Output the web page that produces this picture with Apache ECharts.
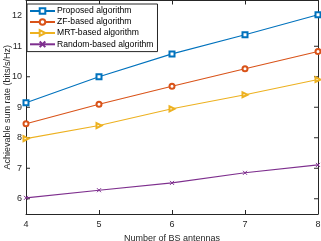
<!DOCTYPE html>
<html><head><meta charset="utf-8">
<script src="https://cdn.jsdelivr.net/npm/echarts@6/dist/echarts.min.js"></script>
<style>html,body{margin:0;padding:0;background:#fff}#c{width:321px;height:241px}</style>
</head><body><div id="c"></div>
<script>
const antennas = [4, 5, 6, 7, 8];
const proposed = [9.15, 10.0, 10.75, 11.38, 12.03];
const zfBased = [8.46, 9.1, 9.69, 10.26, 10.83];
const mrtBased = [7.97, 8.40, 8.95, 9.41, 9.91];
const randomBased = [6.03, 6.28, 6.52, 6.85, 7.11];
const yTicks = [6, 7, 8, 9, 10, 11, 12];
const names = ['Proposed algorithm', 'ZF-based algorithm', 'MRT-based algorithm', 'Random-based algorithm'];

const axisColor = '#262626';
const font = 'Liberation Sans, Arial, sans-serif';
const xPath = 'path://M0,0L10,10M10,0L0,10';
function mk(name, data, color, symbol, rot) {
  const isX = symbol === xPath;
  return {
    name, type: 'line', data: antennas.map((a, i) => [a, data[i]]),
    symbol, symbolSize: isX ? 4 : 5, symbolRotate: rot || 0,
    showAllSymbol: true, color,
    lineStyle: { color, width: 1.1 },
    itemStyle: { color: isX ? 'none' : color, borderColor: color, borderWidth: 1 },
    emphasis: { disabled: true },
    animation: false, z: 3
  };
}
const chart = echarts.init(document.getElementById('c'), null, { renderer: 'canvas' });
chart.setOption({
  animation: false,
  grid: { left: 26, right: 3, top: 0.5, bottom: 27, show: false, containLabel: false, outerBoundsMode: 'none' },
  legend: {
    left: 27, top: 4, orient: 'vertical', itemGap: 1, itemWidth: 25, itemHeight: 7,
    padding: [2, 4, 2, 2],
    backgroundColor: '#fff', borderColor: axisColor, borderWidth: 1,
    textStyle: { fontFamily: font, fontSize: 8.6, lineHeight: 10, color: '#000', padding: [0, 0, 0, -3] },
    data: names, selectedMode: false
  },
  xAxis: [{
    type: 'value', min: 4, max: 8, interval: 1,
    name: 'Number of BS antennas', nameLocation: 'middle', nameGap: 15,
    nameTextStyle: { fontFamily: font, fontSize: 9, color: axisColor },
    axisLine: { show: true, lineStyle: { color: axisColor, width: 1 } },
    axisTick: { show: true, inside: true, length: 4, lineStyle: { color: axisColor } },
    axisLabel: { fontFamily: font, fontSize: 9, color: axisColor, margin: 6 },
    splitLine: { show: false }
  }, {
    type: 'value', min: 4, max: 8, interval: 1, position: 'top',
    axisLine: { show: true, onZero: false, lineStyle: { color: axisColor, width: 1 } },
    axisTick: { show: true, inside: true, length: 4, lineStyle: { color: axisColor } },
    axisLabel: { show: false }, splitLine: { show: false }
  }],
  yAxis: [{
    type: 'value', min: 5.5, max: 12.5,
    name: 'Achievable sum rate (bits/s/Hz)', nameLocation: 'middle', nameGap: 14,
    nameTextStyle: { fontFamily: font, fontSize: 9, color: axisColor },
    axisLine: { show: true, lineStyle: { color: axisColor, width: 1 } },
    axisTick: { show: false },
    axisLabel: { show: false },
    splitLine: { show: false }
  }, {
    type: 'value', min: 5.5, max: 12.5, position: 'right',
    axisLine: { show: true, onZero: false, lineStyle: { color: axisColor, width: 1 } },
    axisTick: { show: false }, axisLabel: { show: false }, splitLine: { show: false }
  }],
  series: [
    mk(names[0], proposed, '#0072BD', 'emptyRect'),
    mk(names[1], zfBased, '#D95319', 'emptyCircle'),
    mk(names[2], mrtBased, '#EDB120', 'emptyTriangle', -90),
    mk(names[3], randomBased, '#7E2F8E', xPath)
  ]
});
function drawYTicks() {
  const els = [];
  yTicks.forEach(v => {
    const pL = chart.convertToPixel({ xAxisIndex: 0, yAxisIndex: 0 }, [4, v]);
    const pR = chart.convertToPixel({ xAxisIndex: 0, yAxisIndex: 0 }, [8, v]);
    els.push({ type: 'line', shape: { x1: pL[0], y1: pL[1], x2: pL[0] + 4, y2: pL[1] }, style: { stroke: axisColor, lineWidth: 1 }, silent: true });
    els.push({ type: 'line', shape: { x1: pR[0] - 4, y1: pR[1], x2: pR[0], y2: pR[1] }, style: { stroke: axisColor, lineWidth: 1 }, silent: true });
    els.push({ type: 'text', x: pL[0] - 4, y: pL[1], style: { text: String(v), fill: axisColor, font: '9px ' + font, textAlign: 'right', textVerticalAlign: 'middle' }, silent: true });
  });
  chart.setOption({ graphic: els });
}
drawYTicks();
</script></body></html>
